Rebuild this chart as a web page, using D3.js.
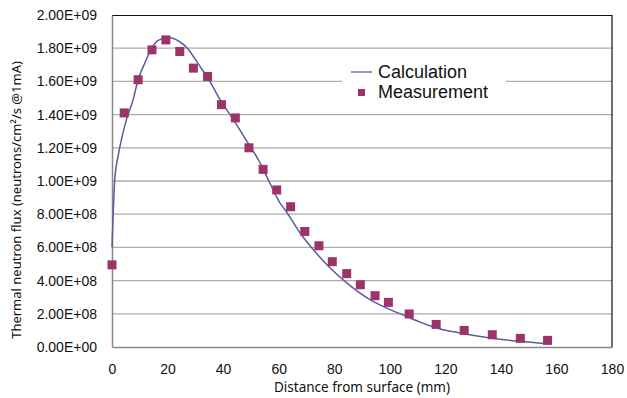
<!DOCTYPE html>
<html>
<head>
<meta charset="utf-8">
<script src="https://cdn.jsdelivr.net/npm/d3@7"></script>
<style>
  html, body { margin: 0; padding: 0; background: #fff; overflow: hidden; }
  svg { display: block; }
</style>
</head>
<body>
<svg id="chart"></svg>
<script>
// measured points (mm, flux)
const measX = [0, 4.4, 9.4, 14.4, 19.4, 24.4, 29.3, 34.4, 39.4, 44.4, 49.3, 54.4, 59.3,
  64.3, 69.4, 74.5, 79.3, 84.5, 89.4, 94.7, 99.5, 107, 116.7, 126.8, 136.9, 147, 156.8];
const measY = [4.95e8, 1.41e9, 1.61e9, 1.79e9, 1.85e9, 1.78e9, 1.68e9, 1.63e9, 1.46e9, 1.38e9,
  1.20e9, 1.07e9, 9.46e8, 8.45e8, 6.96e8, 6.10e8, 5.14e8, 4.42e8, 3.75e8, 3.09e8, 2.69e8,
  1.99e8, 1.36e8, 1.0e8, 7.4e7, 5.2e7, 4.0e7];

// calculation curve
const calcX = [0, 1.0, 2.2, 3.4, 5.2, 7.6, 9.4, 11.8, 14.1, 16.6, 20.2, 23.8, 27.4, 29.5, 31.7, 34.7,
  38.9, 43.7, 48.5, 53.3, 56.9, 60.5, 62.3, 67.7, 72.5, 77.9, 84.5, 92.9, 100.1, 104.9, 110.9,
  116.9, 125.3, 136.1, 146.9, 156.5];
const calcY = [6.0e8, 1.01e9, 1.15e9, 1.25e9, 1.37e9, 1.49e9, 1.61e9, 1.71e9, 1.795e9, 1.847e9,
  1.865e9, 1.845e9, 1.795e9, 1.745e9, 1.69e9, 1.615e9, 1.49e9, 1.37e9, 1.24e9, 1.11e9, 9.85e8, 8.67e8,
  8.27e8, 6.87e8, 5.86e8, 4.86e8, 3.86e8, 2.85e8, 2.25e8, 1.92e8, 1.5e8, 1.14e8, 8.4e7,
  5.4e7, 3.4e7, 2.0e7];

const xTicks = [0, 20, 40, 60, 80, 100, 120, 140, 160, 180];
const yTicks = [0, 2e8, 4e8, 6e8, 8e8, 1e9, 1.2e9, 1.4e9, 1.6e9, 1.8e9, 2e9];
const legendNames = ["Calculation", "Measurement"];

const W = 627, H = 398;
const margin = { top: 15, right: 15, bottom: 51, left: 112 };
const innerWidth = W - margin.left - margin.right;
const innerHeight = H - margin.top - margin.bottom;

const svg = d3.select("#chart").attr("width", W).attr("height", H);
const g = svg.append("g").attr("transform", `translate(${margin.left},${margin.top})`);

const xScale = d3.scaleLinear().domain([0, 180]).range([0, innerWidth]);
const yScale = d3.scaleLinear().domain([0, 2e9]).range([innerHeight, 0]);

const fmtE = (v) => {
  if (v === 0) return "0.00E+00";
  const e = Math.floor(Math.log10(v) + 1e-9);
  const m = v / Math.pow(10, e);
  return m.toFixed(2) + "E+" + String(e).padStart(2, "0");
};

// gridlines
g.append("g")
  .selectAll("line")
  .data(yTicks.filter((d) => d > 0 && d < 2e9))
  .enter()
  .append("line")
  .attr("x1", 0)
  .attr("x2", innerWidth)
  .attr("y1", (d) => yScale(d))
  .attr("y2", (d) => yScale(d))
  .attr("stroke", "#acacac")
  .attr("stroke-width", 1.3);

// frame: top and right black
g.append("path")
  .attr("d", `M0,0.5H${innerWidth}V${innerHeight}`)
  .attr("fill", "none")
  .attr("stroke", "#111")
  .attr("stroke-width", 1.2);

// axes
const yAxis = d3.axisLeft(yScale).tickValues(yTicks).tickFormat(fmtE).tickSize(0).tickPadding(15);
const xAxis = d3.axisBottom(xScale).tickValues(xTicks).tickFormat(d3.format("d")).tickSize(0).tickPadding(17);

const yAxisG = g.append("g").call(yAxis);
const xAxisG = g.append("g").attr("transform", `translate(0,${innerHeight})`).call(xAxis);

[yAxisG, xAxisG].forEach((a) => {
  a.attr("font-size", 14).attr("font-family", "Liberation Sans, Arial, sans-serif");
  a.select(".domain").attr("stroke", "#888").attr("stroke-width", 1.5);
  a.selectAll("text").attr("fill", "#111");
});

// legend (white box covers gridline)
const legend = g.append("g").attr("transform", `translate(${342 - margin.left},${52 - margin.top})`);
legend.append("rect").attr("width", 164).attr("height", 58).attr("fill", "#fff");

// calculation line
const line = d3.line()
  .x((d, i) => xScale(calcX[i]))
  .y((d) => yScale(d))
  .curve(d3.curveMonotoneX);

g.append("path")
  .datum(calcY)
  .attr("d", line)
  .attr("fill", "none")
  .attr("stroke", "#5a5ca3")
  .attr("stroke-width", 1.5);

// measurement squares
g.selectAll("rect.pt")
  .data(measY)
  .enter()
  .append("rect")
  .attr("class", "pt")
  .attr("x", (d, i) => xScale(measX[i]) - 4.5)
  .attr("y", (d) => yScale(d) - 4.5)
  .attr("width", 9)
  .attr("height", 9)
  .attr("fill", "#9c3468");

legend.append("line")
  .attr("x1", 9).attr("x2", 30).attr("y1", 20).attr("y2", 20)
  .attr("stroke", "#7474ad").attr("stroke-width", 1.5);
legend.append("rect")
  .attr("x", 16).attr("y", 37).attr("width", 7).attr("height", 7)
  .attr("fill", "#9c3468");
legend.selectAll("text.lg")
  .data(legendNames)
  .enter()
  .append("text")
  .attr("class", "lg")
  .attr("x", 36)
  .attr("y", (d, i) => 26 + i * 20)
  .attr("font-family", "Liberation Sans, Arial, sans-serif")
  .attr("font-size", 18)
  .attr("fill", "#111")
  .text((d) => d);

// axis titles
svg.append("text")
  .attr("x", margin.left + innerWidth / 2)
  .attr("y", 392)
  .attr("text-anchor", "middle")
  .attr("font-family", "Noto Sans, sans-serif")
  .attr("font-size", 13.5)
  .attr("fill", "#111")
  .text("Distance from surface (mm)");

svg.append("text")
  .attr("transform", `translate(21,200) rotate(-90)`)
  .attr("text-anchor", "middle")
  .attr("font-family", "Noto Sans, sans-serif")
  .attr("font-size", 13)
  .attr("fill", "#111")
  .text("Thermal neutron flux (neutrons/cm²/s @1mA)");
</script>
</body>
</html>
